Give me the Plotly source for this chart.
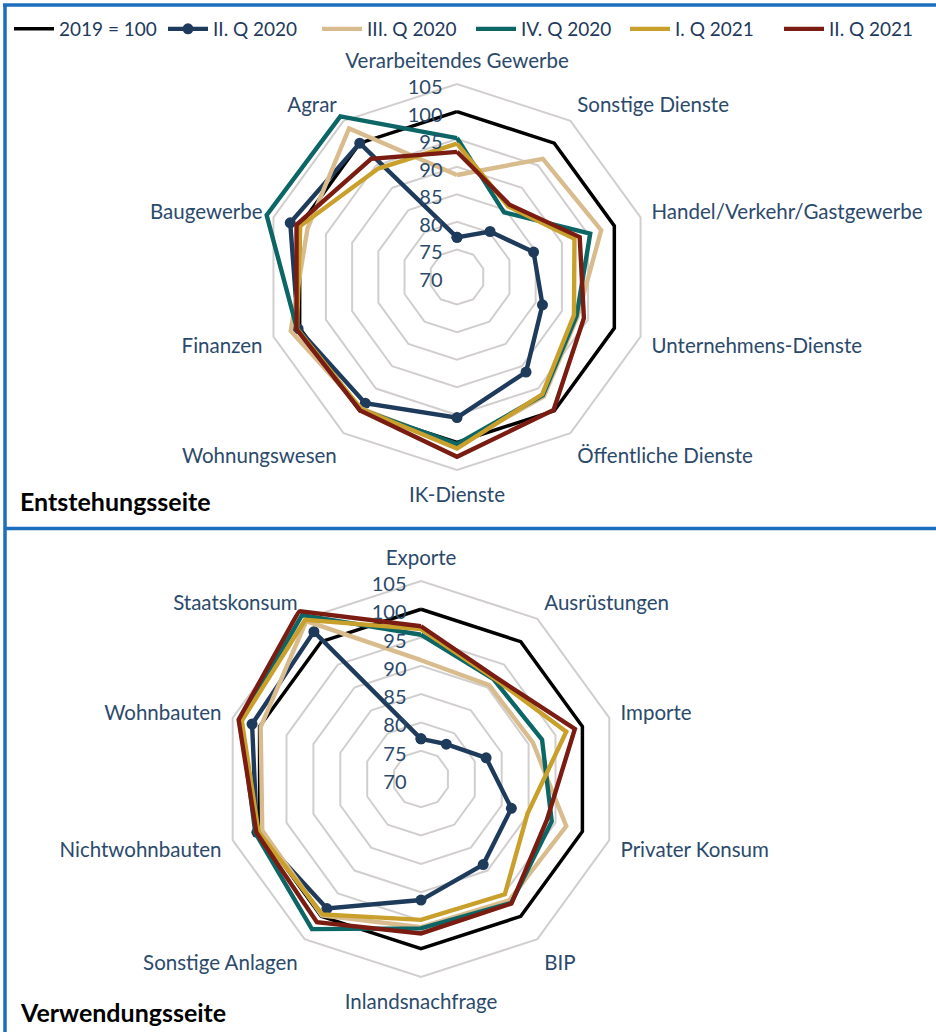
import plotly.graph_objects as go

# ---------------- data ----------------
series_names = ["2019 = 100", "II. Q 2020", "III. Q 2020", "IV. Q 2020", "I. Q 2021", "II. Q 2021"]
series_colors = ["#000000", "#1F3B5C", "#D9BC8E", "#0C6666", "#C9A02C", "#7A1C12"]

top_cats = ["Verarbeitendes Gewerbe", "Sonstige Dienste", "Handel/Verkehr/Gastgewerbe",
            "Unternehmens-Dienste", "Öffentliche Dienste", "IK-Dienste", "Wohnungswesen",
            "Finanzen", "Baugewerbe", "Agrar"]
top_base = [100, 100, 100, 100, 100, 100, 100, 100, 100, 100]
top_q2_20 = [77.2, 80.2, 84.6, 86.3, 91.3, 95.5, 98.3, 100.3, 101.8, 100.0]
top_q3_20 = [88.5, 96.5, 97.5, 93.0, 96.8, 100.5, 99.5, 101.7, 98.5, 103.3]
top_q4_20 = [95.2, 84.5, 95.4, 92.8, 96.5, 100.3, 99.7, 100.5, 106.3, 106.0]
top_q1_21 = [94.2, 85.8, 92.4, 92.3, 96.3, 101.1, 99.6, 100.5, 99.9, 94.3]
top_q2_21 = [92.7, 86.2, 93.4, 94.2, 99.8, 102.6, 99.9, 100.6, 100.6, 96.5]

bot_cats = ["Exporte", "Ausrüstungen", "Importe", "Privater Konsum", "BIP",
            "Inlandsnachfrage", "Sonstige Anlagen", "Nichtwohnbauten", "Wohnbauten", "Staatskonsum"]
bot_base = [100, 100, 100, 100, 100, 100, 100, 100, 100, 100]
bot_q2_20 = [77.1, 77.6, 82.1, 86.8, 88.7, 91.4, 98.3, 100.5, 101.4, 102.2]
bot_q3_20 = [91.0, 90.5, 90.8, 97.0, 96.5, 96.2, 99.8, 99.5, 99.8, 104.5]
bot_q4_20 = [95.5, 91.8, 92.5, 94.3, 97.1, 96.4, 102.8, 100.8, 103.5, 105.8]
bot_q1_21 = [96.5, 92.0, 97.0, 89.8, 95.2, 94.9, 99.6, 100.2, 103.3, 104.8]
bot_q2_21 = [97.0, 92.3, 98.6, 93.4, 97.2, 97.3, 101.3, 100.6, 103.9, 106.7]

radial_ticks = [70, 75, 80, 85, 90, 95, 100, 105]
panel_titles = ["Entstehungsseite", "Verwendungsseite"]

# ---------------- figure ----------------
W, H = 936, 1032
FONT = "Lato"
LABEL_COL = "#2B4A6B"
GRID_COL = "#D2CECE"
BORDER_COL = "#1E6EBE"
RMIN, RMAX = 70, 107

fig = go.Figure()

top_series = [top_base, top_q2_20, top_q3_20, top_q4_20, top_q1_21, top_q2_21]
bot_series = [bot_base, bot_q2_20, bot_q3_20, bot_q4_20, bot_q1_21, bot_q2_21]

def close(lst):
    return list(lst) + [lst[0]]

for subplot, cats, data, show in [("polar", top_cats, top_series, True),
                                  ("polar2", bot_cats, bot_series, False)]:
    for i, (name, col, vals) in enumerate(zip(series_names, series_colors, data)):
        is_marker = (i == 1)
        fig.add_trace(go.Scatterpolar(
            r=close(vals), theta=close(cats), subplot=subplot,
            name=name, legendgroup=name, showlegend=show,
            mode="lines+markers" if is_marker else "lines",
            line=dict(color=col, width=3.5 if i == 0 else 4.4),
            marker=dict(size=11, color=col) if is_marker else None,
            cliponaxis=False,
        ))

def polar_cfg(xdom, ydom):
    return dict(
        domain=dict(x=xdom, y=ydom),
        bgcolor="rgba(0,0,0,0)",
        gridshape="linear",
        radialaxis=dict(range=[RMIN, RMAX], tickvals=radial_ticks, showline=False,
                        gridcolor=GRID_COL, gridwidth=2, angle=90, ticks="",
                        side="counterclockwise",
                        tickfont=dict(family=FONT, size=20, color=LABEL_COL)),
        angularaxis=dict(direction="clockwise", rotation=90, showgrid=False,
                         showline=False, ticks="",
                         tickfont=dict(family=FONT, size=20.5, color=LABEL_COL)),
    )

# radius in px of the 105 ring: top 193 (center 457,277), bottom 198 (center 421,779)
def dom(cx, cy, r105):
    R = r105 * (RMAX - RMIN) / (105 - RMIN)
    return [(cx - R) / W, (cx + R) / W], [(H - cy - R) / H, (H - cy + R) / H]

tx, ty = dom(457, 277, 193)
bx, by = dom(421, 779, 198)
fig.update_layout(polar=polar_cfg(tx, ty), polar2=polar_cfg(bx, by))

def hline(x0, x1, y):
    return dict(type="line", xref="paper", yref="paper", x0=x0 / W, x1=x1 / W,
                y0=(H - y) / H, y1=(H - y) / H, line=dict(color=BORDER_COL, width=3.5))

fig.update_layout(
    width=W, height=H,
    margin=dict(l=0, r=0, t=0, b=0),
    paper_bgcolor="white",
    font=dict(family=FONT, color=LABEL_COL),
    legend=dict(orientation="h", x=9 / W, y=1 - 10 / H, xanchor="left", yanchor="top",
                font=dict(family=FONT, size=19, color="#1F3A5C"),
                itemwidth=40, entrywidth=99, bgcolor="rgba(0,0,0,0)"),
    shapes=[
        hline(3, W, 5),
        hline(5, W, 528.5),
        dict(type="line", xref="paper", yref="paper", x0=5 / W, x1=5 / W,
             y0=0, y1=(H - 4) / H, line=dict(color=BORDER_COL, width=3.5)),
    ],
    annotations=[
        dict(text="<b>%s</b>" % panel_titles[0], xref="paper", yref="paper",
             x=18 / W, y=(H - 501) / H, xanchor="left", yanchor="middle", showarrow=False,
             font=dict(family=FONT, size=25, color="#000000")),
        dict(text="<b>%s</b>" % panel_titles[1], xref="paper", yref="paper",
             x=18 / W, y=(H - 1012) / H, xanchor="left", yanchor="middle", showarrow=False,
             font=dict(family=FONT, size=25, color="#000000")),
    ],
)

fig.write_html("out.html", config={"displayModeBar": False},
               post_script="document.body.style.margin='0px';")
